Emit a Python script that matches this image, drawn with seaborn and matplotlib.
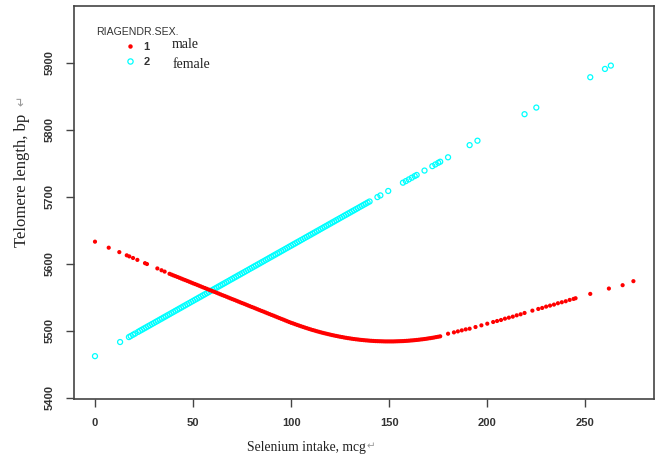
import matplotlib
matplotlib.use("Agg")
import matplotlib.pyplot as plt
import seaborn as sns
import pandas as pd
from matplotlib.lines import Line2D

# ---------------- data ----------------
male_x = [0, 7, 12.4, 16.2, 17.5, 19.4, 21.6, 25.5, 26.5, 31.8, 33.9, 35.5,
          38, 39, 40, 41, 42, 43, 44, 45, 46, 47, 48, 49, 50, 51, 52, 53,
          54, 55, 56, 57, 58, 59, 60, 61, 62, 63, 64, 65, 66, 67, 68, 69,
          70, 71, 72, 73, 74, 75, 76, 77, 78, 79, 80, 81, 82, 83, 84, 85,
          86, 87, 88, 89, 90, 91, 92, 93, 94, 95, 96, 97, 98, 99, 100,
          101, 102, 103, 104, 105, 106, 107, 108, 109, 110, 111, 112, 113,
          114, 115, 116, 117, 118, 119, 120, 121, 122, 123, 124, 125, 126,
          127, 128, 129, 130, 131, 132, 133, 134, 135, 136, 137, 138, 139,
          140, 141, 142, 143, 144, 145, 146, 147, 148, 149, 150, 151, 152,
          153, 154, 155, 156, 157, 158, 159, 160, 161, 162, 163, 164, 165,
          166, 167, 168, 169, 170, 171, 172, 173, 174, 175, 176,
          180, 183, 185, 187, 189, 191, 194, 197, 200, 203, 205, 207, 209,
          211, 213, 215, 217, 219, 223, 226, 228, 230, 232, 234, 236, 238,
          240, 242, 244, 245, 252.5, 262, 269, 274.5]
male_y = [5633, 5624, 5617.4, 5612.6, 5611, 5608.6, 5605.8, 5600.9, 5599.6,
          5593, 5590.3, 5588.3,
          5585.0, 5583.8, 5582.6, 5581.5, 5580.3, 5579.1, 5577.9, 5576.7,
          5575.6, 5574.4, 5573.2, 5572.0, 5570.8, 5569.7, 5568.5, 5567.3,
          5566.1, 5564.9, 5563.8, 5562.6, 5561.4, 5560.2, 5559.0, 5557.9,
          5556.7, 5555.5, 5554.3, 5553.1, 5552.0, 5550.8, 5549.6, 5548.4,
          5547.2, 5546.1, 5544.9, 5543.7, 5542.5, 5541.3, 5540.2, 5539.0,
          5537.8, 5536.6, 5535.4, 5534.3, 5533.1, 5531.9, 5530.7, 5529.5,
          5528.4, 5527.2, 5526.0, 5524.8, 5523.6, 5522.5, 5521.3, 5520.1,
          5518.9, 5517.7, 5516.6, 5515.4, 5514.2, 5513.0, 5511.8,
          5510.9, 5509.8, 5508.7, 5507.7, 5506.7, 5505.7, 5504.7, 5503.8,
          5502.8, 5501.9, 5501.0, 5500.2, 5499.3, 5498.5, 5497.7, 5496.9,
          5496.2, 5495.5, 5494.8, 5494.1, 5493.4, 5492.8, 5492.2, 5491.6,
          5491.0, 5490.5, 5489.9, 5489.4, 5488.9, 5488.5, 5488.0, 5487.6,
          5487.2, 5486.9, 5486.5, 5486.2, 5485.9, 5485.6, 5485.4, 5485.1,
          5484.9, 5484.7, 5484.5, 5484.4, 5484.3, 5484.2, 5484.1, 5484.0,
          5484.0, 5484.0, 5484.0, 5484.0, 5484.1, 5484.2, 5484.3, 5484.4,
          5484.5, 5484.7, 5484.9, 5485.1, 5485.4, 5485.6, 5485.9, 5486.2,
          5486.5, 5486.9, 5487.2, 5487.6, 5488.0, 5488.5, 5488.9, 5489.4,
          5489.9, 5490.5, 5491.0, 5491.6,
          5495.5, 5497.5, 5499, 5500.5, 5502, 5503, 5505.5, 5508, 5510.5,
          5513, 5514.5, 5516, 5518, 5519.5, 5521, 5523, 5524.5, 5526.5,
          5530, 5532.5, 5534, 5536, 5537.5, 5539, 5541, 5542.5, 5544, 5546,
          5547.5, 5548.5, 5555, 5563, 5568, 5574]

female_x = [0, 12.8, 17.3, 18.2, 19.4, 20.5,
            22, 23, 24, 25, 26, 27, 28, 29, 30, 31, 32, 33, 34, 35, 36, 37,
            38, 39, 40, 41, 42, 43, 44, 45, 46, 47, 48, 49, 50, 51, 52, 53,
            54, 55, 56, 57, 58, 59, 60, 61, 62, 63, 64, 65, 66, 67, 68, 69,
            70, 71, 72, 73, 74, 75, 76, 77, 78, 79, 80, 81, 82, 83, 84, 85,
            86, 87, 88, 89, 90, 91, 92, 93, 94, 95, 96, 97, 98, 99, 100,
            101, 102, 103, 104, 105, 106, 107, 108, 109, 110, 111, 112, 113,
            114, 115, 116, 117, 118, 119, 120, 121, 122, 123, 124, 125, 126,
            127, 128, 129, 130, 131, 132, 133, 134, 135, 136, 137, 138, 139,
            140, 144, 145.5, 149.5, 157, 158.5, 160, 161.5, 163, 164, 168,
            172, 173.5, 175, 176, 180, 191, 195, 219, 225, 252.5, 260, 263]
female_y = [5462, 5483.1, 5490.5, 5492, 5494, 5495.8,
            5498.3, 5500.0, 5501.6, 5503.3, 5504.9, 5506.6, 5508.2, 5509.9,
            5511.5, 5513.2, 5514.8, 5516.5, 5518.1, 5519.8, 5521.4, 5523.1,
            5524.7, 5526.4, 5528.0, 5529.7, 5531.3, 5533.0, 5534.6, 5536.3,
            5537.9, 5539.6, 5541.2, 5542.9, 5544.5, 5546.2, 5547.8, 5549.5,
            5551.1, 5552.8, 5554.4, 5556.1, 5557.7, 5559.4, 5561.0, 5562.7,
            5564.3, 5566.0, 5567.6, 5569.3, 5570.9, 5572.6, 5574.2, 5575.9,
            5577.5, 5579.2, 5580.8, 5582.5, 5584.1, 5585.8, 5587.4, 5589.1,
            5590.7, 5592.4, 5594.0, 5595.7, 5597.3, 5599.0, 5600.6, 5602.3,
            5603.9, 5605.6, 5607.2, 5608.9, 5610.5, 5612.2, 5613.8, 5615.5,
            5617.1, 5618.8, 5620.4, 5622.1, 5623.7, 5625.4, 5627.0,
            5628.7, 5630.3, 5632.0, 5633.6, 5635.3, 5636.9, 5638.6, 5640.2,
            5641.9, 5643.5, 5645.2, 5646.8, 5648.5, 5650.1, 5651.8, 5653.4,
            5655.1, 5656.7, 5658.4, 5660.0, 5661.7, 5663.3, 5665.0, 5666.6,
            5668.3, 5669.9, 5671.6, 5673.2, 5674.9, 5676.5, 5678.2, 5679.8,
            5681.5, 5683.1, 5684.8, 5686.4, 5688.1, 5689.7, 5691.4,
            5693.0, 5699.6, 5702.1, 5708.7, 5721.1, 5723.5, 5726, 5728.5,
            5731, 5732.6, 5739.2, 5745.8, 5748.3, 5750.8, 5752.4, 5759,
            5777.2, 5783.8, 5823.4, 5833.3, 5878.6, 5891, 5896]

x_ticks = [0, 50, 100, 150, 200, 250]
y_ticks = [5400, 5500, 5600, 5700, 5800, 5900]
legend_title = "RIAGENDR.SEX."
legend_codes = ["1", "2"]
legend_names = ["male", "female"]
x_label = "Selenium intake, mcg"
y_label = "Telomere length, bp"
return_mark = "\u21b5"

# ---------------- plot ----------------
sns.set_style("white")
plt.rcParams["font.family"] = ["Liberation Sans", "DejaVu Sans"]

male_df = pd.DataFrame({"x": male_x, "y": male_y})
female_df = pd.DataFrame({"x": female_x, "y": female_y})

W, H = 656, 459
fig = plt.figure(figsize=(W / 100, H / 100), dpi=100)
ax = fig.add_axes([74 / W, 1 - 399 / H, 580 / W, 393 / H])

sns.scatterplot(data=female_df, x="x", y="y", ax=ax, marker="o",
                facecolors="none", edgecolor="#00FFFF", linewidth=0.9,
                s=13, legend=False)
sns.scatterplot(data=male_df, x="x", y="y", ax=ax, marker="o",
                color="#FF0000", edgecolor="none", s=9, legend=False)

ax.set_xlim(-10.7, 285)
ax.set_ylim(5398, 5985)
ax.set_xticks(x_ticks)
ax.set_yticks(y_ticks)
ax.set_xticklabels([str(t) for t in x_ticks], fontsize=8, color="#333333",
                   fontweight="bold")
ax.set_yticklabels([str(t) for t in y_ticks], fontsize=8, color="#333333",
                   fontweight="bold", rotation=90, va="center")
ax.tick_params(axis="both", direction="out", length=6, width=1,
               color="#444444", bottom=True, left=True)
ax.tick_params(axis="x", pad=8)
ax.tick_params(axis="y", pad=8)
for sp in ax.spines.values():
    sp.set_color("#444444")
    sp.set_linewidth(1.2)
ax.set_xlabel("")
ax.set_ylabel("")

serif = ["Liberation Serif", "DejaVu Sans"]
fig.text(306 / W, 1 - 448 / H, x_label, ha="center", va="center",
         fontsize=9.8, family=serif, color="#222222")
fig.text(371 / W, 1 - 446 / H, return_mark, ha="center", va="center",
         fontsize=7.5, family=["DejaVu Sans"], color="#999999")
fig.text(22 / W, 1 - 180 / H, y_label, ha="center", va="center",
         rotation=90, fontsize=12, family=serif, color="#222222")
fig.text(22 / W, 1 - 101 / H, return_mark, ha="center", va="center",
         rotation=90, fontsize=9, family=["DejaVu Sans"], color="#999999")

# legend title and keys
fig.text(96 / W, 1 - 32 / H, legend_title, ha="left", va="center",
         fontsize=7.6, color="#333333")
handles = [
    Line2D([0], [0], marker="o", linestyle="none", markerfacecolor="#FF0000",
           markeredgecolor="none", markersize=3.2),
    Line2D([0], [0], marker="o", linestyle="none", markerfacecolor="none",
           markeredgecolor="#00FFFF", markeredgewidth=0.9, markersize=3.8),
]
leg = ax.legend(handles, legend_codes, loc="upper left",
                bbox_to_anchor=(124.5 / W, 1 - 41.5 / H),
                bbox_transform=fig.transFigure, frameon=False, fontsize=8,
                handlelength=1.0, handletextpad=0.7, labelspacing=0.5,
                borderpad=0, borderaxespad=0)
for t in leg.get_texts():
    t.set_color("#333333")
    t.set_fontweight("bold")

fig.text(172 / W, 1 - 45 / H, legend_names[0], ha="left", va="center",
         fontsize=10, family=serif, color="#222222")
fig.text(173 / W, 1 - 64 / H, legend_names[1], ha="left", va="center",
         fontsize=10, family=serif, color="#222222")

fig.savefig("out.png", dpi=100)
